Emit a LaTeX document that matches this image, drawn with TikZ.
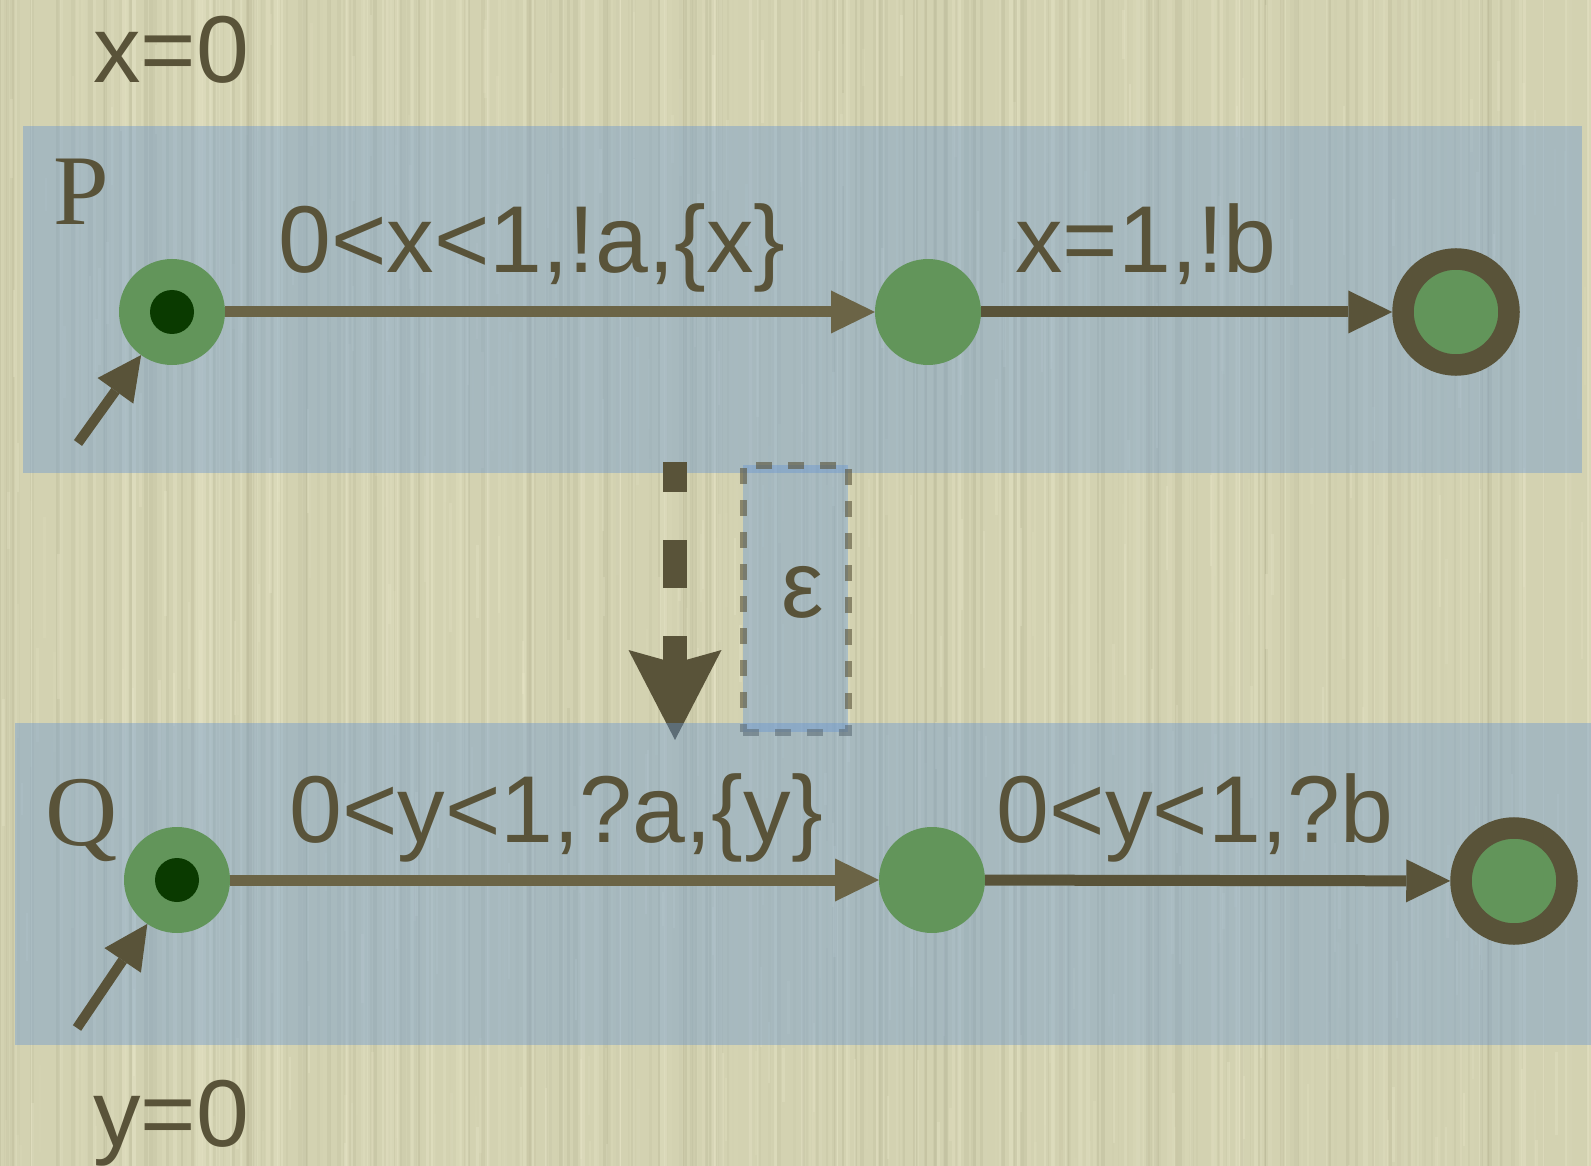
\documentclass[tikz,border=0pt]{standalone}
\usepackage{fontspec}
\setmainfont{Liberation Sans}
\newfontfamily\serifPQ{Liberation Serif}
\usetikzlibrary{arrows.meta}
\definecolor{bgbeige}{RGB}{211,210,177}
\definecolor{grainlight}{RGB}{236,234,205}
\definecolor{graindark}{RGB}{170,168,135}
\definecolor{bandblue}{RGB}{101,148,211}
\definecolor{ink}{RGB}{89,83,57}
\definecolor{inklight}{RGB}{107,100,70}
\definecolor{stategreen}{RGB}{98,149,90}
\definecolor{dotgreen}{RGB}{10,58,0}
\begin{document}
\begin{tikzpicture}[x=0.5pt,y=-0.5pt,
  band/.style={fill=bandblue, fill opacity=0.4},
  state/.style={circle, fill=stategreen, minimum size=53pt, inner sep=0pt, outer sep=0pt},
  initstate/.style={state, path picture={\fill[dotgreen] (path picture bounding box.center) circle[radius=11pt];}},
  finalstate/.style={state, draw=ink, line width=10.75pt, outer sep=5.375pt},
  trans/.style={line width=5.5pt, -{Triangle[length=22pt,width=21.5pt,line width=0pt]}},
  initarr/.style={draw=ink, line width=5pt, -{Triangle[length=22pt,width=22pt,line width=0pt]}},
  lbl/.style={text=ink, font=\fontsize{47.5}{57}\selectfont, inner sep=0pt, outer sep=0pt, anchor=base},
  pq/.style={lbl, font=\serifPQ\fontsize{50}{60}\selectfont},
  epsbox/.style={rectangle, draw=ink, draw opacity=0.6, fill=bandblue, fill opacity=0.4, line width=3.5pt, dash pattern=on 8pt off 8pt, inner sep=0pt, minimum width=52.5pt, minimum height=133.5pt},
  epsarr/.style={draw=ink, line width=12pt, dash pattern=on 24pt off 24pt, dash phase=9pt, -{Stealth[length=45pt,width=46.5pt,inset=6.5pt,line width=0pt]}}
]
\useasboundingbox (0,0) rectangle (1591,1166);
\fill[bgbeige] (0,0) rectangle (1591,1166);
% paper grain
\pgfmathsetseed{7}
\begin{scope}
\clip (0,0) rectangle (1591,1166);
\foreach \i in {1,...,260}{
  \pgfmathsetmacro{\xx}{1591*rnd}
  \pgfmathsetmacro{\op}{0.35*rnd}
  \pgfmathsetmacro{\ww}{0.8+1.5*rnd}
  \draw[grainlight, opacity=\op, line width=\ww pt] (\xx,0) -- (\xx,1166);
}
\foreach \i in {1,...,200}{
  \pgfmathsetmacro{\xx}{1591*rnd}
  \pgfmathsetmacro{\op}{0.25*rnd}
  \pgfmathsetmacro{\ww}{0.8+1.5*rnd}
  \draw[graindark, opacity=\op, line width=\ww pt] (\xx,0) -- (\xx,1166);
}
\foreach \i in {1,...,500}{
  \pgfmathsetmacro{\xx}{1591*rnd}
  \pgfmathsetmacro{\yy}{1166*rnd}
  \pgfmathsetmacro{\ll}{30+120*rnd}
  \pgfmathsetmacro{\op}{0.3*rnd}
  \draw[grainlight, opacity=\op, line width=1.2pt] (\xx,\yy) -- ++(0,\ll);
}
\end{scope}
% top band
\fill[band] (23,126) rectangle (1582,473);
% P automaton
\node[initstate] (p0) at (172,312) {};
\node[state] (p1) at (928,312) {};
\node[finalstate] (p2) at (1456,312) {};
\coordinate (pin) at (78,443);
\draw[initarr] (pin) -- (p0);
\draw[trans, draw=inklight] (p0) -- (p1);
\draw[trans, draw=ink] (p1) -- (p2);
\node[lbl] (lx0) at (171,83) {x=0};
\node[pq] (lP) at (81,225) {P};
\node[lbl] (lpa) at (532,273) {0<x<1,!a,\{x\}};
\node[lbl] (lpb) at (1146,273) {x=1,!b};
% epsilon step
\coordinate (ea) at (675,462);
\coordinate (eb) at (675,740);
\draw[epsarr] (ea) -- (eb);
\node[epsbox] (eps) at (795.5,598.5) {};
\node[lbl] (leps) at (803,617) {ε};
% bottom band
\fill[band] (15,723) rectangle (1591,1045);
% Q automaton
\node[initstate] (q0) at (177,880) {};
\node[state] (q1) at (932,880) {};
\node[finalstate] (q2) at (1514,881) {};
\coordinate (qin) at (77,1028);
\draw[initarr] (qin) -- (q0);
\draw[trans, draw=inklight] (q0) -- (q1);
\draw[trans, draw=ink] (q1) -- (q2);
\node[pq] (lQ) at (82,845) {Q};
\node[lbl] (lqa) at (556,842) {0<y<1,?a,\{y\}};
\node[lbl] (lqb) at (1195,842) {0<y<1,?b};
\node[lbl] (ly0) at (171,1146) {y=0};
\end{tikzpicture}
\end{document}
